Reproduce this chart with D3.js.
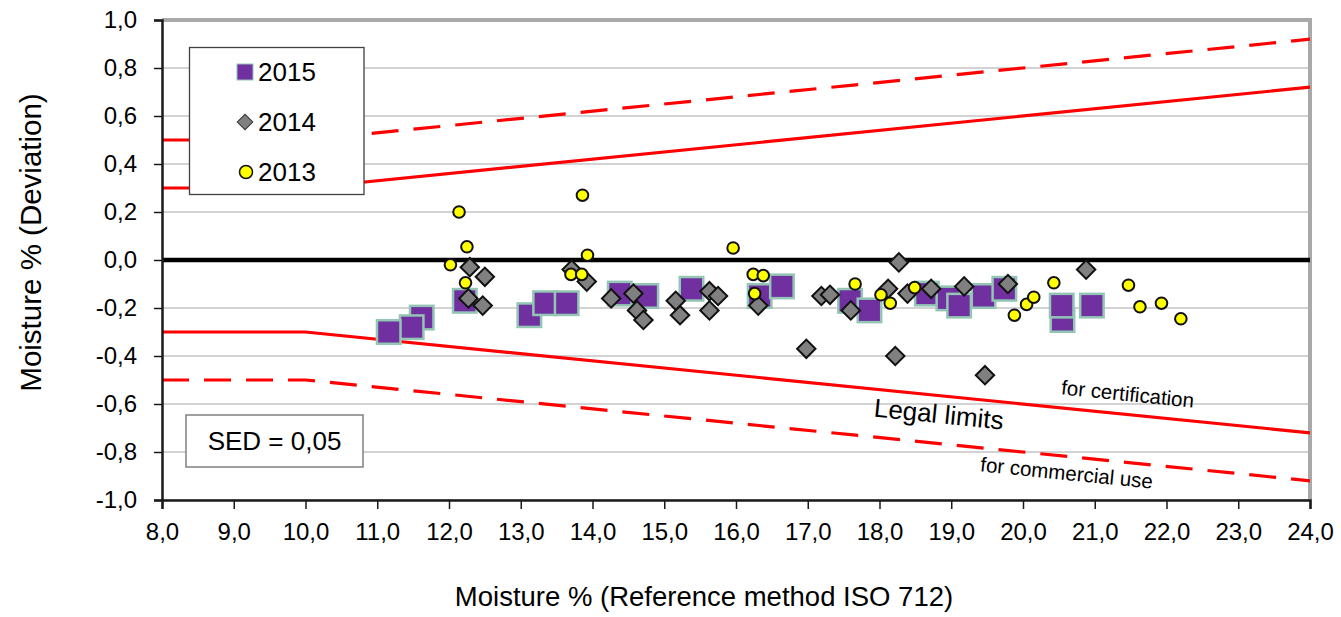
<!DOCTYPE html>
<html lang="en">
<head>
<meta charset="UTF-8">
<title>Moisture deviation vs reference method</title>
<style>
  body { margin: 0; background: #fff; }
  svg { display: block; font-family: "Liberation Sans", Arial, sans-serif; }
  .axis text { font-size: 24px; fill: #000; }
  .axis .domain { stroke: #1a1a1a; stroke-width: 2.5px; }
  .axis .tick line { stroke: #1a1a1a; stroke-width: 1.5px; }
  .grid line { stroke: #c4c4c4; stroke-width: 1.3px; }
</style>
</head>
<body>
<div id="chart"></div>
<script src="https://d3js.org/d3.v7.min.js"></script>
<script>
// axis ticks
const xTicks = [8, 9, 10, 11, 12, 13, 14, 15, 16, 17, 18, 19, 20, 21, 22, 23, 24];
const yTicks = [-1.0, -0.8, -0.6, -0.4, -0.2, 0.0, 0.2, 0.4, 0.6, 0.8, 1.0];

// legal limits (x breakpoints and the four limit lines)
const limitX = [8, 10, 24];
const certUpper = [0.3, 0.3, 0.72];
const certLower = [-0.3, -0.3, -0.72];
const commUpper = [0.5, 0.5, 0.92];
const commLower = [-0.5, -0.5, -0.92];

// series: [reference moisture %, deviation]
const s2015 = [
  [11.62, -0.24], [11.48, -0.28], [11.16, -0.30], [12.22, -0.17],
  [13.12, -0.23], [13.34, -0.18], [13.64, -0.18], [14.38, -0.14],
  [14.75, -0.15], [15.38, -0.12], [16.33, -0.15], [16.64, -0.11],
  [17.59, -0.17], [17.86, -0.21], [18.66, -0.14], [18.96, -0.16],
  [19.11, -0.19], [19.45, -0.15], [19.74, -0.12], [20.55, -0.25],
  [20.54, -0.19], [20.96, -0.19]
];
const s2014 = [
  [12.29, -0.03], [12.50, -0.07], [12.27, -0.16], [12.47, -0.19],
  [13.71, -0.04], [13.92, -0.09], [14.26, -0.16], [14.57, -0.14],
  [14.62, -0.21], [14.71, -0.25], [15.16, -0.17], [15.22, -0.23],
  [15.63, -0.13], [15.75, -0.15], [15.63, -0.21], [16.31, -0.19],
  [16.98, -0.37], [17.19, -0.15], [17.31, -0.145], [17.60, -0.21],
  [18.12, -0.12], [18.27, -0.01], [18.22, -0.40], [18.39, -0.14],
  [18.72, -0.12], [19.18, -0.11], [19.47, -0.48], [19.79, -0.10],
  [20.88, -0.04]
];
const s2013 = [
  [12.02, -0.02], [12.14, 0.20], [12.25, 0.055], [12.23, -0.095],
  [13.70, -0.06], [13.85, -0.06], [13.86, 0.27], [13.93, 0.02],
  [15.96, 0.05], [16.24, -0.06], [16.38, -0.065], [16.26, -0.14],
  [17.66, -0.10], [18.02, -0.145], [18.15, -0.18], [18.49, -0.115],
  [19.88, -0.23], [20.05, -0.185], [20.15, -0.155], [20.43, -0.095],
  [21.47, -0.105], [21.63, -0.195], [21.93, -0.18], [22.20, -0.245]
];
const legendLabels = ["2015", "2014", "2013"];

const W = 1341, H = 617;
const margin = {top: 20, right: 31, bottom: 117, left: 162};
const fmt = d => d.toFixed(1).replace(".", ",");

const svg = d3.select("#chart").append("svg")
  .attr("width", W).attr("height", H);

const x = d3.scaleLinear().domain([8, 24]).range([margin.left, W - margin.right]);
const y = d3.scaleLinear().domain([-1, 1]).range([H - margin.bottom, margin.top]);

// horizontal gridlines
svg.append("g").attr("class", "grid")
  .selectAll("line")
  .data(yTicks.filter(v => v !== 0))
  .join("line")
  .attr("x1", x(8)).attr("x2", x(24))
  .attr("y1", d => y(d)).attr("y2", d => y(d));

// plot area frame (top / right in grey)
svg.append("line")
  .attr("x1", x(8)).attr("x2", x(24) + 2)
  .attr("y1", y(1)).attr("y2", y(1))
  .attr("stroke", "#a9a9a9").attr("stroke-width", 4);
svg.append("line")
  .attr("x1", x(24)).attr("x2", x(24))
  .attr("y1", y(1) - 2).attr("y2", y(-1))
  .attr("stroke", "#a9a9a9").attr("stroke-width", 4);

// zero line
svg.append("line")
  .attr("x1", x(8)).attr("x2", x(24))
  .attr("y1", y(0)).attr("y2", y(0))
  .attr("stroke", "#000").attr("stroke-width", 4.5);

// limit lines
const limitLine = vals => d3.line()
  .x((d, i) => x(limitX[i]))
  .y(d => y(d))(vals);

[[certUpper, null], [certLower, null], [commUpper, "27,15"], [commLower, "27,15"]]
  .forEach(([vals, dash]) => {
    svg.append("path")
      .attr("d", limitLine(vals))
      .attr("fill", "none")
      .attr("stroke", "#ff0000")
      .attr("stroke-width", 3.2)
      .attr("stroke-dasharray", dash);
  });

// annotations along the limits
const angle = Math.atan2(y(0) - y(0.03), x(1) - x(0)) * 180 / Math.PI;
const notes = [
  {t: "Legal limits", cx: 938, cy: 423, size: 26},
  {t: "for certification", cx: 1127, cy: 401, size: 20.5},
  {t: "for commercial use", cx: 1066, cy: 480, size: 20.5}
];
svg.selectAll(".note").data(notes).join("text")
  .attr("class", "note")
  .attr("transform", d => `translate(${d.cx},${d.cy}) rotate(${angle})`)
  .attr("text-anchor", "middle")
  .style("font-size", d => d.size + "px")
  .text(d => d.t);

// axes
svg.append("g").attr("class", "axis")
  .attr("transform", `translate(0,${y(-1)})`)
  .call(d3.axisBottom(x).tickValues(xTicks).tickFormat(fmt)
    .tickSizeOuter(0).tickSize(9).tickPadding(14));

svg.append("g").attr("class", "axis")
  .attr("transform", `translate(${x(8)},0)`)
  .call(d3.axisLeft(y).tickValues(yTicks).tickFormat(fmt)
    .tickSizeOuter(0).tickSize(8).tickPadding(17));

// markers: squares (2015), diamonds (2014), circles (2013)
const sq = 23.5;
svg.append("g").selectAll("rect")
  .data(s2015).join("rect")
  .attr("x", d => x(d[0]) - sq / 2)
  .attr("y", d => y(d[1]) - sq / 2)
  .attr("width", sq).attr("height", sq)
  .attr("fill", "#7030a0")
  .attr("stroke", "#93c6b4").attr("stroke-width", 2.5);

const dm = 13;
svg.append("g").selectAll("rect")
  .data(s2014).join("rect")
  .attr("x", -dm / 2).attr("y", -dm / 2)
  .attr("width", dm).attr("height", dm)
  .attr("transform", d => `translate(${x(d[0])},${y(d[1])}) rotate(45)`)
  .attr("fill", "#808080")
  .attr("stroke", "#111").attr("stroke-width", 2);

svg.append("g").selectAll("circle")
  .data(s2013).join("circle")
  .attr("cx", d => x(d[0]))
  .attr("cy", d => y(d[1]))
  .attr("r", 5.8)
  .attr("fill", "#ffff00")
  .attr("stroke", "#111").attr("stroke-width", 2);

// legend
const leg = svg.append("g");
leg.append("rect")
  .attr("x", 189.5).attr("y", 47.5).attr("width", 174.5).attr("height", 147)
  .attr("fill", "#fff").attr("stroke", "#404040").attr("stroke-width", 1.3);

const legY = i => 72 + i * 50;
leg.append("rect")
  .attr("x", 237).attr("y", legY(0) - 8).attr("width", 16).attr("height", 16)
  .attr("fill", "#7030a0").attr("stroke", "#93c6b4").attr("stroke-width", 1);
leg.append("rect")
  .attr("x", -5.5).attr("y", -5.5).attr("width", 11).attr("height", 11)
  .attr("transform", `translate(245,${legY(1)}) rotate(45)`)
  .attr("fill", "#808080").attr("stroke", "#333").attr("stroke-width", 1);
leg.append("circle")
  .attr("cx", 246).attr("cy", legY(2)).attr("r", 6.5)
  .attr("fill", "#ffff00").attr("stroke", "#111").attr("stroke-width", 1.5);

leg.selectAll("text").data(legendLabels).join("text")
  .attr("x", 258)
  .attr("y", (d, i) => legY(i))
  .attr("dy", "0.36em")
  .style("font-size", "26px")
  .text(d => d);

// SED box
svg.append("rect")
  .attr("x", 186).attr("y", 415).attr("width", 177).attr("height", 52)
  .attr("fill", "#fff").attr("stroke", "#808080").attr("stroke-width", 1.5);
svg.append("text")
  .attr("x", 274.5).attr("y", 441)
  .attr("dy", "0.36em")
  .attr("text-anchor", "middle")
  .style("font-size", "26px")
  .text("SED = 0,05");

// axis titles
svg.append("text")
  .attr("transform", `translate(41,${242.5}) rotate(-90)`)
  .attr("text-anchor", "middle")
  .style("font-size", "29.5px")
  .text("Moisture % (Deviation)");

svg.append("text")
  .attr("x", 704).attr("y", 606)
  .attr("text-anchor", "middle")
  .style("font-size", "27.5px")
  .text("Moisture % (Reference method ISO 712)");
</script>
</body>
</html>
